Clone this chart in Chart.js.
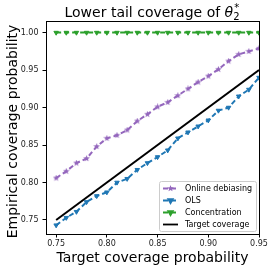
<!DOCTYPE html>
<html>
<head>
<meta charset="utf-8">
<script src="https://cdn.jsdelivr.net/npm/chart.js@4/dist/chart.umd.min.js"></script>
<style>
  html, body { margin: 0; padding: 0; background: #fff; }
  #wrap { width: 274px; height: 272px; }
</style>
</head>
<body>
<div id="wrap"><canvas id="chart" width="274" height="272"></canvas></div>
<script>
const targetLevels = [0.75, 0.76, 0.77, 0.78, 0.79, 0.80, 0.81, 0.82, 0.83, 0.84, 0.85,
  0.86, 0.87, 0.88, 0.89, 0.90, 0.91, 0.92, 0.93, 0.94, 0.95];
const onlineDebiasing = [0.806, 0.815, 0.826, 0.832, 0.848, 0.859, 0.863, 0.870, 0.882, 0.891, 0.901,
  0.907, 0.916, 0.925, 0.934, 0.942, 0.951, 0.962, 0.971, 0.975, 0.979];
const ols = [0.743, 0.753, 0.761, 0.774, 0.782, 0.787, 0.800, 0.805, 0.817, 0.826, 0.834,
  0.843, 0.859, 0.867, 0.875, 0.883, 0.896, 0.900, 0.915, 0.924, 0.940];
const concentration = [1.0, 1.0, 1.0, 1.0, 1.0, 1.0, 1.0, 1.0, 1.0, 1.0, 1.0,
  1.0, 1.0, 1.0, 1.0, 1.0, 1.0, 1.0, 1.0, 1.0, 1.0];
const targetCoverage = [0.75, 0.95];
const targetCoverageX = [0.75, 0.95];
const xTicks = [0.75, 0.80, 0.85, 0.90, 0.95];
const yTicks = [0.75, 0.80, 0.85, 0.90, 0.95, 1.00];

const FONT = 'DejaVu Sans';
const COLORS = {
  purple: '#9467bd',
  blue: '#1f77b4',
  green: '#2ca02c',
  black: '#000000',
};

const toPoints = (xs, ys) => xs.map((x, i) => ({ x, y: ys[i] }));

// filled five-point star, like matplotlib's '*'
const makeStar = (color, size) => {
  const c = document.createElement('canvas');
  c.width = size;
  c.height = size;
  const g = c.getContext('2d');
  const cx = size / 2, cy = size / 2, R = size / 2, r = R * 0.42;
  g.beginPath();
  for (let i = 0; i < 10; i++) {
    const rad = i % 2 === 0 ? R : r;
    const a = -Math.PI / 2 + (i * Math.PI) / 5;
    g.lineTo(cx + rad * Math.cos(a), cy + rad * Math.sin(a));
  }
  g.closePath();
  g.fillStyle = color;
  g.fill();
  return c;
};

const starMarker = makeStar(COLORS.purple, 7);

const LINE_STYLE = {
  borderWidth: 2,
  borderDash: [5, 3],
  pointRadius: 2.6,
  pointBorderWidth: 1,
  fill: false,
  tension: 0,
  clip: 0,
};

const datasets = [
  {
    label: 'Online debiasing',
    data: toPoints(targetLevels, onlineDebiasing),
    borderColor: COLORS.purple,
    backgroundColor: COLORS.purple,
    pointStyle: starMarker,
    order: 3,
    ...LINE_STYLE,
  },
  {
    label: 'OLS',
    data: toPoints(targetLevels, ols),
    borderColor: COLORS.blue,
    backgroundColor: COLORS.blue,
    pointStyle: 'triangle',
    rotation: 180,
    order: 2,
    ...LINE_STYLE,
  },
  {
    label: 'Concentration',
    data: toPoints(targetLevels, concentration),
    borderColor: COLORS.green,
    backgroundColor: COLORS.green,
    pointStyle: 'triangle',
    rotation: 180,
    order: 1,
    ...LINE_STYLE,
  },
  {
    label: 'Target coverage',
    data: toPoints(targetCoverageX, targetCoverage),
    borderColor: COLORS.black,
    backgroundColor: COLORS.black,
    borderWidth: 2,
    pointRadius: 0,
    fill: false,
    order: 0,
    clip: 0,
  },
];

// frame, titles and inside legend drawn in matplotlib fashion
const decorPlugin = {
  id: 'decor',
  afterDraw(chart) {
    const { ctx, chartArea: a } = chart;
    ctx.save();

    ctx.strokeStyle = '#000';
    ctx.lineWidth = 1;
    ctx.strokeRect(Math.round(a.left) + 0.5, Math.round(a.top) + 0.5,
      Math.round(a.right - a.left), Math.round(a.bottom - a.top));

    // title with theta_2^*
    const mid = (a.left + a.right) / 2;
    const base = 'Lower tail coverage of ';
    ctx.fillStyle = '#000';
    ctx.textBaseline = 'alphabetic';
    ctx.font = `14px "${FONT}"`;
    const wBase = ctx.measureText(base).width;
    ctx.font = `italic 14px "${FONT}"`;
    const wTheta = ctx.measureText('θ').width;
    ctx.font = `10px "${FONT}"`;
    const wSub = ctx.measureText('2').width;
    const total = wBase + wTheta + wSub + 1;
    let tx = mid - total / 2;
    const ty = 17;
    ctx.textAlign = 'left';
    ctx.font = `14px "${FONT}"`;
    ctx.fillText(base, tx, ty);
    tx += wBase;
    ctx.font = `italic 14px "${FONT}"`;
    ctx.fillText('θ', tx, ty);
    tx += wTheta;
    ctx.font = `10px "${FONT}"`;
    ctx.fillText('2', tx, ty + 3);
    ctx.fillText('*', tx + 1, ty - 6);

    // axis titles
    ctx.font = `14px "${FONT}"`;
    ctx.textAlign = 'center';
    ctx.textBaseline = 'middle';
    ctx.fillText('Target coverage probability', mid, 258);
    ctx.save();
    ctx.translate(13, (a.top + a.bottom) / 2 + 4);
    ctx.rotate(-Math.PI / 2);
    ctx.fillText('Empirical coverage probability', 0, 0);
    ctx.restore();

    // legend box
    const lx = 159, ly = 181, lw = 97, lh = 50;
    ctx.beginPath();
    ctx.roundRect(lx + 0.5, ly + 0.5, lw, lh, 2);
    ctx.fillStyle = 'rgba(255,255,255,0.85)';
    ctx.fill();
    ctx.strokeStyle = '#cccccc';
    ctx.lineWidth = 1;
    ctx.stroke();

    ctx.font = `8px "${FONT}"`;
    ctx.textAlign = 'left';
    ctx.textBaseline = 'middle';
    datasets.forEach((ds, i) => {
      const y = 188.5 + i * 12;
      ctx.strokeStyle = ds.borderColor;
      ctx.lineWidth = 1.8;
      ctx.setLineDash(ds.borderDash || []);
      ctx.beginPath();
      ctx.moveTo(163, y);
      ctx.lineTo(178, y);
      ctx.stroke();
      ctx.setLineDash([]);
      if (ds.pointRadius) {
        ctx.fillStyle = ds.backgroundColor;
        ctx.strokeStyle = ds.borderColor;
        Chart.helpers.drawPoint(ctx, {
          pointStyle: ds.pointStyle,
          rotation: ds.rotation || 0,
          radius: ds.pointRadius,
          borderWidth: 1,
        }, 170.5, y);
      }
      ctx.fillStyle = '#000';
      ctx.fillText(ds.label, 185, y + 0.5);
    });

    ctx.restore();
  },
};

const TICK_STYLE = {
  color: '#222',
  font: { family: FONT, size: 8 },
};

new Chart(document.getElementById('chart'), {
  type: 'line',
  data: { datasets },
  options: {
    responsive: false,
    animation: false,
    layout: { padding: { top: 21, right: 15, left: 0, bottom: 0 } },
    plugins: {
      legend: { display: false },
      title: { display: false },
      tooltip: { enabled: false },
    },
    scales: {
      x: {
        type: 'linear',
        min: 0.74,
        max: 0.95,
        afterBuildTicks: (scale) => {
          scale.ticks = xTicks.map((value) => ({ value }));
        },
        afterFit: (scale) => {
          scale.height = 38;
        },
        grid: {
          drawOnChartArea: false,
          drawTicks: true,
          tickLength: 3.5,
          color: '#000',
        },
        border: { display: false },
        ticks: {
          ...TICK_STYLE,
          padding: 2,
          maxRotation: 0,
          autoSkip: false,
          callback: (v) => v.toFixed(2),
        },
      },
      y: {
        type: 'linear',
        min: 0.7313,
        max: 1.0155,
        afterBuildTicks: (scale) => {
          scale.ticks = yTicks.map((value) => ({ value }));
        },
        afterFit: (scale) => {
          scale.width = 46;
        },
        grid: {
          drawOnChartArea: false,
          drawTicks: true,
          tickLength: 3.5,
          color: '#000',
        },
        border: { display: false },
        ticks: {
          ...TICK_STYLE,
          padding: 4,
          autoSkip: false,
          callback: (v) => v.toFixed(2),
        },
      },
    },
  },
  plugins: [decorPlugin],
});
</script>
</body>
</html>
